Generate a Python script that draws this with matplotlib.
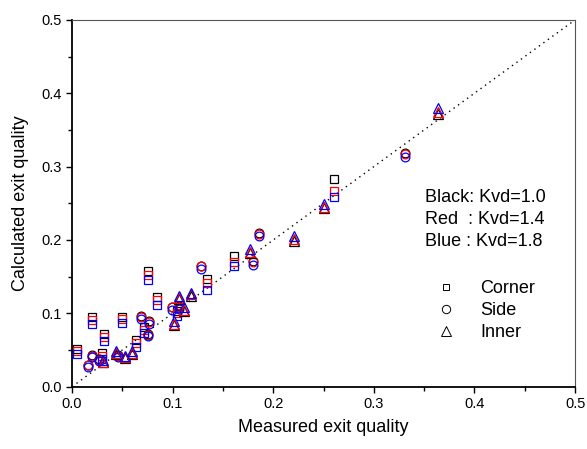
import matplotlib
matplotlib.use("Agg")
import matplotlib.pyplot as plt
from matplotlib.lines import Line2D
from matplotlib.ticker import MultipleLocator

plt.rcParams['font.family'] = ['Liberation Sans', 'DejaVu Sans']

# Corner subchannels (squares)
corner_meas = [0.005, 0.020, 0.030, 0.032, 0.050, 0.064, 0.072, 0.076, 0.084, 0.104, 0.134, 0.161, 0.260]
corner_k10 = [0.052, 0.095, 0.046, 0.072, 0.095, 0.063, 0.082, 0.158, 0.122, 0.103, 0.147, 0.178, 0.283]
corner_k14 = [0.049, 0.091, 0.042, 0.068, 0.092, 0.059, 0.077, 0.152, 0.118, 0.100, 0.141, 0.170, 0.267]
corner_k18 = [0.045, 0.085, 0.038, 0.062, 0.087, 0.054, 0.073, 0.145, 0.111, 0.097, 0.132, 0.164, 0.258]

# Side subchannels (circles)
side_meas = [0.016, 0.020, 0.027, 0.046, 0.069, 0.076, 0.077, 0.099, 0.106, 0.128, 0.180, 0.186, 0.331]
side_k10 = [0.030, 0.043, 0.038, 0.043, 0.096, 0.072, 0.089, 0.109, 0.110, 0.165, 0.171, 0.209, 0.318]
side_k14 = [0.029, 0.042, 0.037, 0.042, 0.095, 0.071, 0.088, 0.108, 0.109, 0.164, 0.170, 0.208, 0.317]
side_k18 = [0.027, 0.040, 0.035, 0.040, 0.092, 0.069, 0.085, 0.105, 0.106, 0.161, 0.166, 0.205, 0.313]

# Inner subchannels (triangles)
inner_meas = [0.031, 0.044, 0.053, 0.060, 0.101, 0.106, 0.111, 0.118, 0.177, 0.221, 0.250, 0.364]
inner_k10 = [0.033, 0.045, 0.039, 0.045, 0.084, 0.119, 0.103, 0.124, 0.182, 0.199, 0.243, 0.372]
inner_k14 = [0.034, 0.046, 0.040, 0.046, 0.086, 0.121, 0.105, 0.126, 0.184, 0.201, 0.245, 0.375]
inner_k18 = [0.036, 0.048, 0.042, 0.048, 0.089, 0.124, 0.108, 0.128, 0.188, 0.205, 0.249, 0.380]

fig = plt.figure(figsize=(5.87, 4.49), dpi=100)
ax = fig.add_axes([0.1227, 0.1388, 0.857, 0.817])

ax.plot([0, 0.5], [0, 0.5], ls=(0, (1, 3)), color='k', lw=1.0)

groups = [
    ('s', 5.3, corner_meas, [corner_k10, corner_k14, corner_k18]),
    ('o', 6.3, side_meas, [side_k10, side_k14, side_k18]),
    ('^', 6.6, inner_meas, [inner_k10, inner_k14, inner_k18]),
]
for mk, ms, xs, ys_list in groups:
    for ys, col in zip(ys_list, ['black', 'red', 'blue']):
        ax.plot(xs, ys, ls='none', marker=mk, ms=ms, mfc='none', mec=col, mew=0.9)

ax.set_xlim(0, 0.5)
ax.set_ylim(0, 0.5)
ax.xaxis.set_major_locator(MultipleLocator(0.1))
ax.yaxis.set_major_locator(MultipleLocator(0.1))
ax.xaxis.set_minor_locator(MultipleLocator(0.05))
ax.yaxis.set_minor_locator(MultipleLocator(0.05))
ax.xaxis.set_major_formatter(plt.FormatStrFormatter('%.1f'))
ax.yaxis.set_major_formatter(plt.FormatStrFormatter('%.1f'))
ax.tick_params(which='major', direction='out', length=4.5, width=1.0, labelsize=10.5, pad=3)
ax.tick_params(which='minor', direction='out', length=2.8, width=1.0)
ax.tick_params(top=False, right=False, which='both')

for s in ['left', 'bottom']:
    ax.spines[s].set_linewidth(1.3)
for s in ['top', 'right']:
    ax.spines[s].set_linewidth(0.8)
    ax.spines[s].set_color('#555555')

ax.set_xlabel('Measured exit quality', fontsize=13, labelpad=6)
ax.set_ylabel('Calculated exit quality', fontsize=13, labelpad=9)

W, H = 587, 449
for txt, yc in [('Black: Kvd=1.0', 198), ('Red  : Kvd=1.4', 220), ('Blue : Kvd=1.8', 242)]:
    fig.text(425 / W, 1 - yc / H, txt, fontsize=13, va='center', ha='left')

handles = [
    Line2D([], [], ls='none', marker='s', ms=5, mfc='none', mec='k', mew=0.7),
    Line2D([], [], ls='none', marker='o', ms=6, mfc='none', mec='k', mew=0.7),
    Line2D([], [], ls='none', marker='^', ms=6.5, mfc='none', mec='k', mew=0.7),
]
fig.legend(handles, ['Corner', 'Side', 'Inner'], loc='upper left',
           bbox_to_anchor=(437 / W, 1 - 280 / H), frameon=False, fontsize=13,
           handlelength=1.0, handletextpad=1.4, labelspacing=0.29,
           borderpad=0, borderaxespad=0)

fig.savefig('out.png', dpi=100)
